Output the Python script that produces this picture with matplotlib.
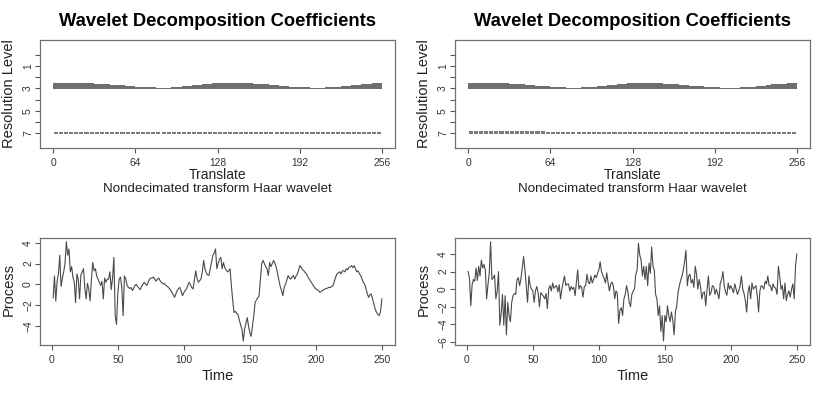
import numpy as np
import matplotlib
matplotlib.use("Agg")
import matplotlib.pyplot as plt
from matplotlib.ticker import MultipleLocator

plt.rcParams["font.family"] = ["Liberation Sans", "DejaVu Sans"]

# process values (t = 1..250)
series_left = [
    -1.3, 0.8, -1.6, 0.3, 1.0, 2.8, -0.2, 0.6, 1.2, 2.0,
    4.1, 2.8, 3.4, 1.2, 1.7, 0.7, 0.2, -1.75, 1.0, 0.5,
    -1.4, 0.9, 1.2, 1.5, -0.4, -1.4, 0.1, -0.5, -1.6, 0.5,
    2.1, 1.3, 1.5, 0.8, 0.5, 0.2, -0.1, 0.3, -1.4, 0.6,
    0.2, 0.5, 0.5, 1.2, -0.5, 0.6, 2.6, -3.0, -3.85, -0.8,
    0.5, 0.7, -0.3, -3.0, 0.8, 0.5, -0.1, -0.3, -0.4, -0.3,
    -0.6, -0.4, -0.1, 0.0, -0.2, -0.4, -0.5, -0.2, 0.0, 0.2,
    0.0, -0.1, 0.2, 0.5, 0.6, 0.6, 0.7, 0.5, 0.3, 0.5,
    0.6, 0.35, 0.2, 0.05, 0.1, -0.05, -0.15, -0.25, -0.4, -0.55,
    -0.8, -1.0, -1.25, -0.9, -0.6, -0.4, -0.3, -0.7, -1.1, -0.8,
    -0.6, -0.45, -0.1, 0.2, -0.05, -0.3, -0.45, 0.4, 1.3, 0.6,
    0.2, 0.35, 0.5, 1.2, 2.3, 1.5, 1.1, 0.9, 0.85, 1.5,
    2.2, 2.8, 3.0, 3.4, 1.5, 2.0, 2.4, 2.6, 1.5, 2.1,
    1.6, 1.4, 1.2, 1.3, 1.5, -0.1, -1.5, -2.7, -2.6, -2.8,
    -2.9, -3.4, -3.9, -4.3, -5.45, -4.3, -3.8, -3.2, -4.0, -4.65,
    -5.0, -4.0, -3.0, -1.75, -1.5, -1.3, -1.1, 0.5, 2.0, 2.3,
    2.0, 1.7, 1.5, 0.84, 2.1, 1.7, 2.0, 2.3, 2.0, 1.65,
    1.0, 0.4, -0.2, -0.6, -1.1, -0.3, 0.0, 0.4, 0.84, 0.6,
    0.5, 0.7, 0.84, 0.5, 0.8, 1.0, 1.4, 1.8, 1.6, 1.4,
    1.3, 1.1, 1.0, 0.7, 0.5, 0.3, 0.1, -0.1, -0.3, -0.45,
    -0.5, -0.6, -0.77, -0.7, -0.6, -0.5, -0.45, -0.4, -0.35, -0.3,
    -0.3, -0.2, -0.13, 0.3, 0.7, 1.0, 1.1, 1.2, 1.0, 1.3,
    1.3, 1.2, 1.5, 1.4, 1.6, 1.7, 1.8, 1.6, 1.8, 1.5,
    1.2, 1.3, 1.0, 0.84, 0.5, 0.2, 0.0, -0.45, -0.9, -1.26,
    -1.0, -0.93, -1.4, -1.9, -2.4, -2.7, -2.9, -3.0, -2.6, -1.4,
]

series_right = [
    2.0, 1.2, -1.9, 0.5, 1.1, 0.9, 2.4, 1.0, 2.6, 1.5,
    3.3, 2.4, 2.8, 2.2, -1.1, 0.5, 1.85, 5.4, 1.1, 1.3,
    1.6, -1.1, -0.2, 2.0, -4.1, -2.8, -0.6, -4.1, -0.75, -5.2,
    -1.5, -3.0, -3.7, -1.5, -0.75, -0.5, -0.6, 1.1, 1.3, 0.4,
    1.2, 2.4, 3.7, 2.2, 0.4, -1.5, 1.5, 0.4, 0.0, -0.2,
    -1.5, -0.2, 0.3, -0.4, -2.0, -0.4, -0.6, -0.8, -1.1, -0.5,
    -2.2, 0.0, 0.4, -0.2, 0.7, 0.1, 0.3, 0.4, -0.3, 0.5,
    -1.1, 0.0, 0.8, 1.5, 0.4, 0.6, 0.6, -0.2, 0.3, 0.0,
    0.2, -0.75, 0.8, 2.2, 0.0, 0.4, 0.2, -0.9, 0.3, 0.4,
    1.7, 0.8, 0.6, 1.5, 0.7, 1.1, 1.6, 1.3, 1.8, 2.2,
    3.1, 2.0, 1.6, 1.2, 0.7, 1.85, 0.7, -0.2, 0.6, 0.8,
    0.4, -1.1, -0.2, -0.5, -3.9, -2.4, -2.1, -3.0, -1.1, -0.6,
    0.4, -0.3, -1.5, -2.0, -0.6, -0.2, 0.0, 1.65, 2.2, 5.2,
    3.9, 3.3, 1.5, 2.6, 1.1, 2.6, 0.4, 2.95, 1.8, 4.8,
    2.6, 2.2, -0.6, -1.1, -3.0, -1.9, -4.8, -3.0, -5.9, -3.0,
    -3.7, -1.9, -3.0, -3.7, -2.6, -3.5, -5.2, -2.6, -1.9, -0.4,
    0.4, 1.0, 1.5, 2.2, 3.2, 4.4, 0.4, 1.5, 1.7, 0.7,
    1.1, 0.2, 2.6, 1.7, 0.0, 1.1, 0.3, -1.1, -0.4, -0.3,
    -1.9, 0.0, 1.5, -0.7, -0.4, 0.4, 0.3, -0.6, 0.0, -0.5,
    -1.1, 0.7, 1.1, 2.0, 0.4, -0.3, -0.7, 0.7, 0.0, 0.4,
    0.0, -0.4, 0.6, 0.0, -0.6, -0.2, 0.4, 1.5, 0.0, -0.5,
    -1.3, -2.6, -0.4, 0.4, -1.1, 0.7, 0.0, 0.2, 0.4, -0.7,
    -2.6, -0.2, 0.4, 0.3, 0.0, 0.9, 0.6, 1.5, 0.4, 0.4,
    -0.2, 0.6, 0.2, 0.1, -0.6, 2.6, 1.5, 0.0, 0.4, -1.1,
    0.7, -1.3, -0.6, -0.2, -0.9, 0.0, 0.6, -1.1, 2.6, 4.0,
]

# coefficient sizes (in level units), one per block of 4 translates
translates = np.arange(64) * 4 + 2
coef3_left = [
    0.52, 0.53, 0.51, 0.52, 0.53, 0.51, 0.50, 0.51, 0.47, 0.45, 0.43, 0.40, 0.36, 0.32, 0.29, 0.25,
    0.22, 0.18, 0.16, 0.14, 0.13, 0.12, 0.13, 0.15, 0.18, 0.23, 0.27, 0.32, 0.38, 0.43, 0.47, 0.50,
    0.52, 0.53, 0.53, 0.52, 0.53, 0.51, 0.50, 0.48, 0.45, 0.41, 0.36, 0.32, 0.29, 0.25, 0.22, 0.18,
    0.15, 0.14, 0.12, 0.11, 0.12, 0.14, 0.16, 0.20, 0.24, 0.29, 0.34, 0.40, 0.43, 0.47, 0.50, 0.52,
]
coef3_right = [
    0.52, 0.53, 0.52, 0.52, 0.53, 0.52, 0.50, 0.50, 0.46, 0.44, 0.41, 0.38, 0.34, 0.30, 0.27, 0.23,
    0.20, 0.17, 0.15, 0.13, 0.12, 0.12, 0.14, 0.16, 0.20, 0.25, 0.30, 0.35, 0.40, 0.45, 0.49, 0.51,
    0.53, 0.53, 0.52, 0.53, 0.52, 0.51, 0.49, 0.47, 0.43, 0.39, 0.35, 0.31, 0.27, 0.23, 0.20, 0.17,
    0.14, 0.13, 0.12, 0.11, 0.12, 0.14, 0.17, 0.21, 0.26, 0.31, 0.36, 0.41, 0.45, 0.48, 0.51, 0.52,
]
coef7_left = [0.16] * 15 + [0.10] * 49
coef7_right = [0.24] * 15 + [0.13] * 49

W, H = 830, 395
fig = plt.figure(figsize=(W / 100, H / 100), dpi=100)


def px(x, y):
    return x / W, 1 - y / H


def style(ax):
    for s in ax.spines.values():
        s.set_color("#707070")
        s.set_linewidth(0.9)
    ax.tick_params(length=3.5, width=0.8, color="#555555", labelsize=7.4,
                   labelcolor="#333333")
    ax.tick_params(axis="x", pad=4)
    ax.tick_params(axis="y", pad=1.5, labelrotation=90)
    for lab in ax.get_yticklabels():
        lab.set_va("center")


panels = [
    (40, coef3_left, coef7_left, series_left),
    (455, coef3_right, coef7_right, series_right),
]

for x0, c3, c7, series in panels:
    # wavelet coefficients panel
    ax = fig.add_axes([x0 / W, 1 - 148 / H, 355 / W, 108 / H])
    ax.bar(translates, -np.array(c3), bottom=3.05, width=4, color="#6e6e6e", linewidth=0)
    ax.bar(translates, -np.array(c7), bottom=7.05, width=3.2, color="#7a7a7a", linewidth=0)
    ax.set_xlim(-10.24, 266.24)
    ax.set_ylim(8.35, -1.35)
    ax.set_xticks([0, 64, 128, 192, 256])
    ax.set_yticks(range(8))
    ax.set_yticklabels(["", "1", "", "3", "", "5", "", "7"])
    style(ax)

    cx = x0 + 177.5
    fig.text(*px(cx, 21), "Wavelet Decomposition Coefficients", ha="center",
             va="center", fontsize=13.2, fontweight="bold")
    fig.text(*px(x0 - 31, 94), "Resolution Level", rotation=90, ha="center",
             va="center", fontsize=10.5, color="#222222")
    fig.text(*px(cx, 175.5), "Translate", ha="center", va="center", fontsize=10,
             color="#222222")
    fig.text(*px(cx, 189.5), "Nondecimated transform Haar wavelet", ha="center",
             va="center", fontsize=9.6, color="#222222")

    # process panel
    ax2 = fig.add_axes([x0 / W, 1 - 345 / H, 355 / W, 107.3 / H])
    t = np.arange(1, len(series) + 1)
    ax2.plot(t, series, color="#4a4a4a", linewidth=0.8)
    ax2.margins(0.04)
    ax2.set_xticks([0, 50, 100, 150, 200, 250])
    ax2.yaxis.set_major_locator(MultipleLocator(2))
    style(ax2)
    fig.text(*px(cx, 376), "Time", ha="center", va="center", fontsize=10.5,
             color="#222222")
    fig.text(*px(x0 - 31, 290), "Process", rotation=90, ha="center", va="center",
             fontsize=10.5, color="#222222")

fig.savefig("out.png", dpi=100)
